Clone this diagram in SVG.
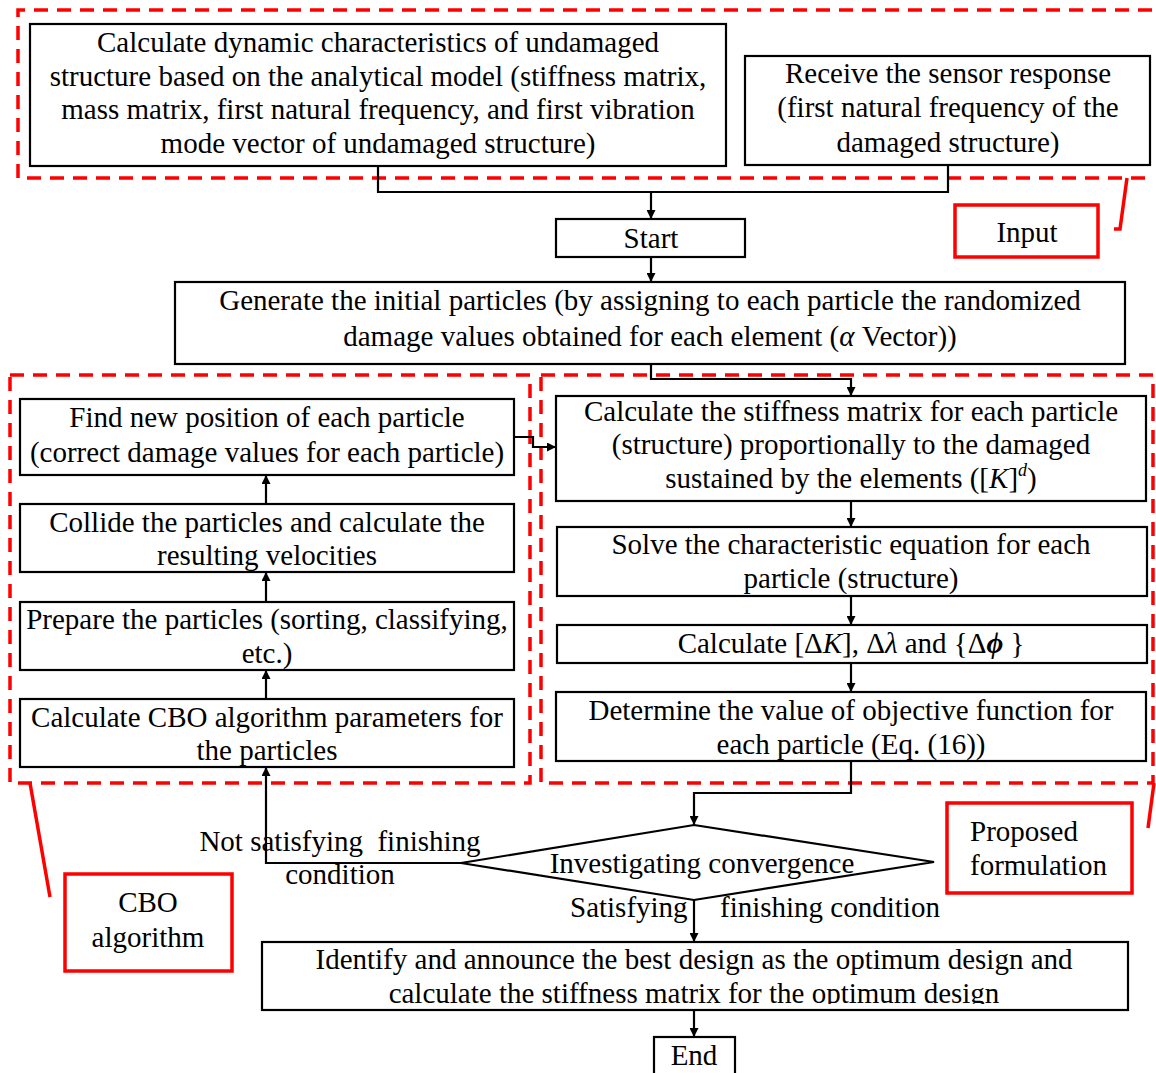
<svg xmlns="http://www.w3.org/2000/svg" width="1156" height="1073" viewBox="0 0 1156 1073">
<defs>
<style>
text{font-family:"Liberation Serif","Times New Roman",serif;font-size:29px;fill:#000;}
.c{text-anchor:middle;}
.box{fill:#fff;stroke:#000;stroke-width:2.2;}
.red{fill:none;stroke:#ff0000;stroke-width:3.5;}
.dash{fill:none;stroke:#ff0000;stroke-width:3.5;stroke-dasharray:14 9;}
.ln{fill:none;stroke:#000;stroke-width:2.2;}
.i{font-style:italic;}
</style>
<marker id="ah" viewBox="0 0 10 10" refX="10" refY="5" markerWidth="9" markerHeight="9" markerUnits="userSpaceOnUse" orient="auto">
<path d="M0,0 L10,5 L0,10 z" fill="#000"/>
</marker>
<clipPath id="clipId"><rect x="262" y="942" width="866" height="62"/></clipPath>
</defs>
<rect width="1156" height="1073" fill="#fff"/>

<g id="regions">
<path class="dash" d="M1152 10 H18 V178 H1152"/>
<rect class="dash" x="10" y="375" width="520" height="408"/>
<rect class="dash" x="541" y="375" width="612" height="408"/>
<polyline class="red" points="1127,178 1120,229 1114,229"/>
<line class="red" x1="30" y1="783" x2="50" y2="897"/>
<line class="red" x1="1154" y1="783" x2="1148" y2="828"/>
</g>

<g id="connectors">
<path class="ln" d="M378 166 V192 H948 V165"/>
<path class="ln" d="M651 192 V219" marker-end="url(#ah)"/>
<path class="ln" d="M651 257 V282" marker-end="url(#ah)"/>
<path class="ln" d="M651 364 V379 H851 V396" marker-end="url(#ah)"/>
<path class="ln" d="M851 501 V527" marker-end="url(#ah)"/>
<path class="ln" d="M851 596 V625" marker-end="url(#ah)"/>
<path class="ln" d="M851 663 V692" marker-end="url(#ah)"/>
<path class="ln" d="M851 761 V793 H694 V825" marker-end="url(#ah)"/>
<path class="ln" d="M461 863 H266 V767" marker-end="url(#ah)"/>
<path class="ln" d="M266 699 V670" marker-end="url(#ah)"/>
<path class="ln" d="M266 602 V572" marker-end="url(#ah)"/>
<path class="ln" d="M266 504 V475" marker-end="url(#ah)"/>
<path class="ln" d="M514 437 H533 V447 H556" marker-end="url(#ah)"/>
<path class="ln" d="M694 900 V942" marker-end="url(#ah)"/>
<path class="ln" d="M694 1010 V1037" marker-end="url(#ah)"/>
</g>

<g id="n-undamaged">
<rect class="box" x="30" y="24" width="696" height="142"/>
<text class="c" x="378" y="52">Calculate dynamic characteristics of undamaged</text>
<text class="c" x="378" y="86">structure based on the analytical model (stiffness matrix,</text>
<text class="c" x="378" y="119">mass matrix, first natural frequency, and first vibration</text>
<text class="c" x="378" y="153">mode vector of undamaged structure)</text>
</g>

<g id="n-sensor">
<rect class="box" x="745" y="56" width="405" height="109"/>
<text class="c" x="948" y="83">Receive the sensor response</text>
<text class="c" x="948" y="117">(first natural frequency of the</text>
<text class="c" x="948" y="152">damaged structure)</text>
</g>

<g id="n-input">
<rect class="red" x="955" y="205" width="143" height="52"/>
<text class="c" x="1027" y="242">Input</text>
</g>

<g id="n-start">
<rect class="box" x="556" y="219" width="189" height="38"/>
<text class="c" x="651" y="248">Start</text>
</g>

<g id="n-generate">
<rect class="box" x="175" y="282" width="950" height="82"/>
<text class="c" x="650" y="310">Generate the initial particles (by assigning to each particle the randomized</text>
<text class="c" x="650" y="346">damage values obtained for each element (<tspan class="i">α</tspan> Vector))</text>
</g>

<g id="n-find">
<rect class="box" x="20" y="399" width="494" height="76"/>
<text class="c" x="267" y="427">Find new position of each particle</text>
<text class="c" x="267" y="462">(correct damage values for each particle)</text>
</g>

<g id="n-collide">
<rect class="box" x="20" y="504" width="494" height="68"/>
<text class="c" x="267" y="532">Collide the particles and calculate the</text>
<text class="c" x="267" y="565">resulting velocities</text>
</g>

<g id="n-prepare">
<rect class="box" x="20" y="602" width="494" height="68"/>
<text class="c" x="267" y="629">Prepare the particles (sorting, classifying,</text>
<text class="c" x="267" y="663">etc.)</text>
</g>

<g id="n-cboparams">
<rect class="box" x="20" y="699" width="494" height="68"/>
<text class="c" x="267" y="727">Calculate CBO algorithm parameters for</text>
<text class="c" x="267" y="760">the particles</text>
</g>

<g id="n-stiffness">
<rect class="box" x="556" y="396" width="590" height="105"/>
<text class="c" x="851" y="421">Calculate the stiffness matrix for each particle</text>
<text class="c" x="851" y="454">(structure) proportionally to the damaged</text>
<text class="c" x="851" y="488">sustained by the elements ([<tspan class="i">K</tspan>]<tspan class="i" font-size="18" dy="-12">d</tspan><tspan dy="12">)</tspan></text>
</g>

<g id="n-solve">
<rect class="box" x="557" y="527" width="590" height="69"/>
<text class="c" x="851" y="554">Solve the characteristic equation for each</text>
<text class="c" x="851" y="588">particle (structure)</text>
</g>

<g id="n-delta">
<rect class="box" x="557" y="625" width="590" height="38"/>
<text class="c" x="851" y="653">Calculate [Δ<tspan class="i">K</tspan>], Δ<tspan class="i">λ</tspan> and {Δ<tspan class="i" font-weight="bold">ϕ</tspan> }</text>
</g>

<g id="n-objective">
<rect class="box" x="556" y="692" width="590" height="69"/>
<text class="c" x="851" y="720">Determine the value of objective function for</text>
<text class="c" x="851" y="754">each particle (Eq. (16))</text>
</g>

<g id="n-proposed">
<rect class="red" x="947" y="803" width="185" height="90"/>
<text x="970" y="841">Proposed</text>
<text x="970" y="875">formulation</text>
</g>

<g id="n-convergence">
<polygon class="box" fill="none" points="694,825 934,862 694,900 461,863" style="fill:none"/>
<text class="c" x="702" y="873">Investigating convergence</text>
</g>

<g id="labels">
<text class="c" x="340" y="851" xml:space="preserve">Not satisfying  finishing</text>
<text class="c" x="340" y="884">condition</text>
<text x="570" y="917">Satisfying</text>
<text x="720" y="917">finishing condition</text>
</g>

<g id="n-cbo">
<rect class="red" x="65" y="874" width="167" height="97"/>
<text class="c" x="148" y="912">CBO</text>
<text class="c" x="148" y="947">algorithm</text>
</g>

<g id="n-identify">
<rect class="box" x="262" y="942" width="866" height="68"/>
<g clip-path="url(#clipId)">
<text class="c" x="694" y="969">Identify and announce the best design as the optimum design and</text>
<text class="c" x="694" y="1003">calculate the stiffness matrix for the optimum design</text>
</g>
</g>

<g id="n-end">
<rect class="box" x="654" y="1037" width="81" height="45"/>
<text class="c" x="694" y="1065">End</text>
</g>
</svg>
